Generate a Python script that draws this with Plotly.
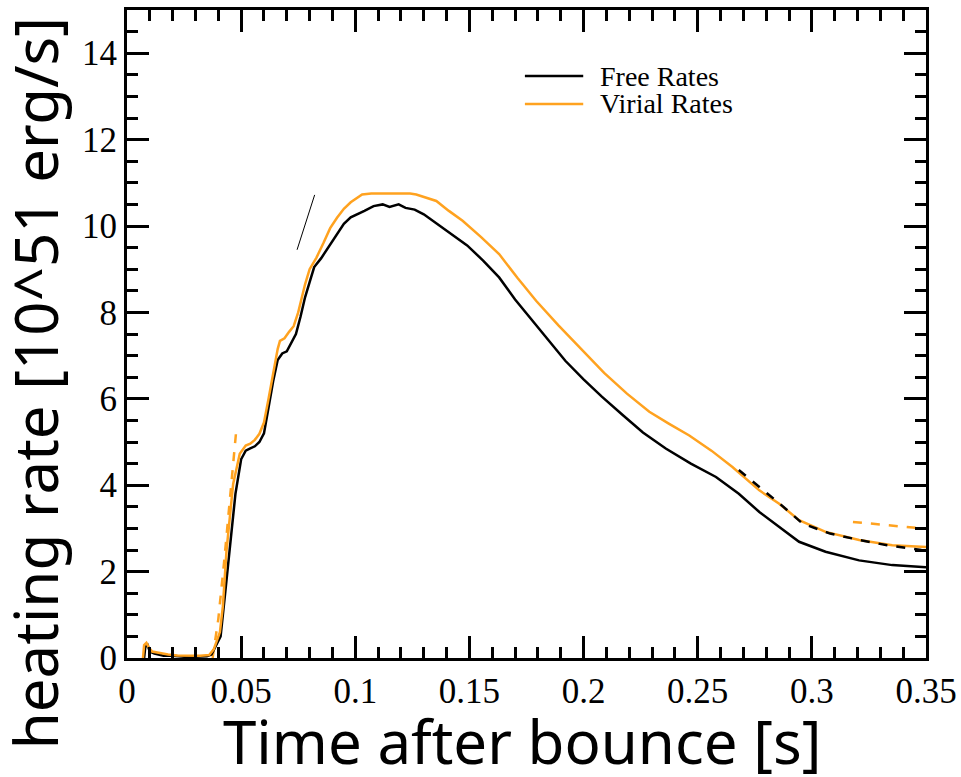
import plotly.graph_objects as go

# ---------------- data ----------------
free_t = [0.0075, 0.008, 0.009, 0.010, 0.012, 0.016, 0.020, 0.025, 0.030, 0.035, 0.037, 0.039,
          0.041, 0.043, 0.045, 0.0475, 0.050, 0.052, 0.054, 0.056, 0.058, 0.060, 0.062, 0.064,
          0.066, 0.068, 0.070, 0.072, 0.074, 0.076, 0.078, 0.080, 0.082, 0.085, 0.089, 0.092,
          0.095, 0.098, 0.101, 0.104, 0.108, 0.112, 0.115, 0.119, 0.122, 0.126, 0.130, 0.134,
          0.138, 0.143, 0.149, 0.156, 0.163, 0.170, 0.177, 0.185, 0.192, 0.200, 0.208, 0.217,
          0.226, 0.236, 0.247, 0.258, 0.268, 0.277, 0.2857, 0.2944, 0.306, 0.3207, 0.3352, 0.350]
free_q = [0.0, 0.25, 0.3, 0.15, 0.1, 0.05, 0.05, 0.03, 0.03, 0.04, 0.08, 0.3,
          0.5, 1.5, 2.5, 3.8, 4.6, 4.8, 4.85, 4.9, 5.0, 5.2, 5.8, 6.4,
          6.9, 7.05, 7.1, 7.3, 7.5, 7.9, 8.35, 8.7, 9.05, 9.25, 9.58, 9.8,
          10.05, 10.2, 10.27, 10.35, 10.46, 10.5, 10.44, 10.5, 10.42, 10.38, 10.27, 10.12,
          9.96, 9.78, 9.55, 9.2, 8.81, 8.3, 7.85, 7.35, 6.88, 6.45, 6.05, 5.63,
          5.22, 4.85, 4.5, 4.19, 3.8, 3.38, 3.03, 2.69, 2.46, 2.26, 2.15, 2.10]

virial_t = [0.007, 0.0075, 0.0085, 0.0095, 0.011, 0.014, 0.018, 0.022, 0.027, 0.032, 0.036, 0.038,
            0.0407, 0.042, 0.0436, 0.0465, 0.0494, 0.052, 0.054, 0.056, 0.058, 0.060, 0.062, 0.064,
            0.066, 0.067, 0.069, 0.071, 0.073, 0.075, 0.078, 0.080, 0.083, 0.086, 0.089, 0.092,
            0.095, 0.098, 0.1005, 0.103, 0.107, 0.112, 0.118, 0.124, 0.1267, 0.131, 0.1355, 0.141,
            0.147, 0.155, 0.163, 0.171, 0.1792, 0.189, 0.1996, 0.209, 0.219, 0.2288, 0.2375, 0.2463,
            0.256, 0.2652, 0.277, 0.2857, 0.2944, 0.306, 0.3207, 0.3352, 0.350]
virial_q = [0.0, 0.3, 0.35, 0.25, 0.15, 0.12, 0.08, 0.06, 0.05, 0.05, 0.07, 0.2,
            0.6, 1.2, 2.49, 4.03, 4.73, 4.92, 4.96, 5.05, 5.19, 5.45, 6.0, 6.6,
            7.15, 7.34, 7.4, 7.55, 7.68, 8.0, 8.65, 9.0, 9.27, 9.6, 9.95, 10.19,
            10.4, 10.55, 10.65, 10.73, 10.75, 10.75, 10.75, 10.75, 10.73, 10.65, 10.58, 10.35,
            10.12, 9.75, 9.35, 8.8, 8.27, 7.7, 7.11, 6.6, 6.12, 5.7, 5.42, 5.15,
            4.8, 4.42, 3.88, 3.57, 3.19, 2.92, 2.73, 2.61, 2.57]

# partially visible dashed fragments
frag_rise_t = [0.0375, 0.040, 0.0425, 0.045, 0.0475, 0.048]
frag_rise_q = [0.0, 0.9, 2.2, 3.6, 5.0, 5.35]
frag_thin_t = [0.0745, 0.0822]
frag_thin_q = [9.45, 10.72]
frag_black_t = [0.268, 0.277, 0.286, 0.296, 0.308, 0.321, 0.333, 0.348]
frag_black_q = [4.35, 3.96, 3.57, 3.11, 2.88, 2.73, 2.61, 2.50]
frag_orange_t = [0.318, 0.3352, 0.350]
frag_orange_q = [3.15, 3.07, 2.99]

legend_names = ["Free Rates", "Virial Rates"]
x_title = "Time after bounce [s]"
y_title = "heating rate [10^51 erg/s]"

ORANGE = "#FFA21F"
SERIF = "Liberation Serif"
SANS = "Noto Sans"

fig = go.Figure()
fig.add_trace(go.Scatter(x=frag_rise_t, y=frag_rise_q, mode="lines", showlegend=False,
                         line=dict(color=ORANGE, width=2.5, dash="dash")))
fig.add_trace(go.Scatter(x=frag_thin_t, y=frag_thin_q, mode="lines", showlegend=False,
                         line=dict(color="black", width=1)))
fig.add_trace(go.Scatter(x=frag_orange_t, y=frag_orange_q, mode="lines", showlegend=False,
                         line=dict(color=ORANGE, width=2.5, dash="dash")))
fig.add_trace(go.Scatter(x=free_t, y=free_q, mode="lines", name=legend_names[0], showlegend=False,
                         line=dict(color="black", width=2.5)))
fig.add_trace(go.Scatter(x=virial_t, y=virial_q, mode="lines", name=legend_names[1], showlegend=False,
                         line=dict(color=ORANGE, width=2.5)))
fig.add_trace(go.Scatter(x=frag_black_t, y=frag_black_q, mode="lines", showlegend=False,
                         line=dict(color="black", width=2.5, dash="dash")))

axis_common = dict(
    showline=True, linecolor="black", linewidth=3, mirror="ticks",
    ticks="inside", ticklen=22, tickwidth=2.5, tickcolor="black",
    showgrid=False, zeroline=False,
    tickfont=dict(family=SERIF, size=35, color="black"),
)

fig.update_xaxes(**axis_common, range=[0, 0.35], dtick=0.05, tick0=0,
                 minor=dict(dtick=0.01, ticklen=11, tickwidth=2.5, tickcolor="black", ticks="inside"))
fig.update_yaxes(**axis_common, range=[0, 15], dtick=2, tick0=0,
                 minor=dict(dtick=0.5, ticklen=11, tickwidth=2.5, tickcolor="black", ticks="inside"))

# axis titles (placed like the reference, extending beyond the plot area)
annotations = [
    dict(text=x_title, xref="paper", yref="paper", x=0.494, y=-0.128,
         xanchor="center", yanchor="middle", showarrow=False,
         font=dict(family=SANS, size=60, color="black")),
    dict(text=y_title, xref="paper", yref="paper", x=-0.115, y=0.424, textangle=-90,
         xanchor="center", yanchor="middle", showarrow=False,
         font=dict(family=SANS, size=60, color="black")),
]

# legend drawn manually to match the reference's compact layout
legend_colors = ["black", ORANGE]
legend_y = [0.898, 0.855]
shapes = []
for name, col, ly in zip(legend_names, legend_colors, legend_y):
    shapes.append(dict(type="line", xref="paper", yref="paper", x0=0.498, x1=0.571, y0=ly, y1=ly,
                       line=dict(color=col, width=2.5)))
    annotations.append(dict(text=name, xref="paper", yref="paper", x=0.590, y=ly,
                            xanchor="left", yanchor="middle", showarrow=False,
                            font=dict(family=SERIF, size=28, color="black")))

fig.update_layout(
    width=961, height=777,
    margin=dict(l=127, r=35, t=10, b=119, autoexpand=False),
    paper_bgcolor="white", plot_bgcolor="white",
    showlegend=False,
    annotations=annotations, shapes=shapes,
)

fig.write_html("out.html")
